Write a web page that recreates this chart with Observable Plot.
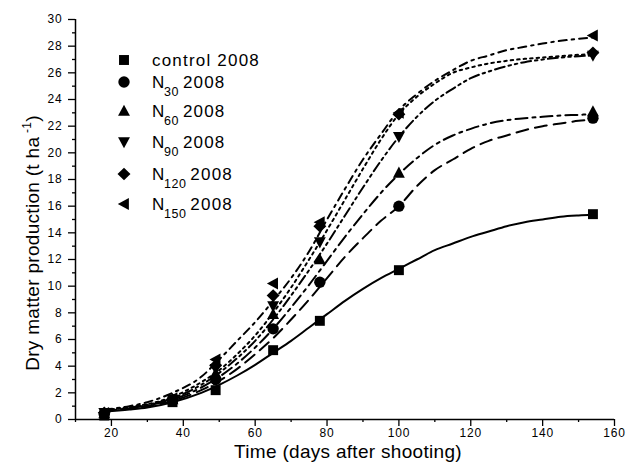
<!DOCTYPE html>
<html>
<head>
<meta charset="utf-8">
<script src="https://cdn.jsdelivr.net/npm/d3@7"></script>
<script src="https://cdn.jsdelivr.net/npm/@observablehq/plot@0.6"></script>
<style>
  body { margin: 0; background: #fff; }
  #chart { position: relative; width: 628px; height: 463px; }
  svg text { font-family: "Liberation Sans", Arial, sans-serif; }
  .tk text { letter-spacing: 0.8px; }
</style>
</head>
<body>
<div id="chart"></div>
<script>
// Observed sampling days
const days = [18, 37, 49, 65, 78, 100, 154];
// Observed dry matter (t/ha)
const control = [0.3, 1.3, 2.2, 5.2, 7.4, 11.2, 15.4];
const n30 = [0.4, 1.4, 3.0, 6.8, 10.3, 16.0, 22.6];
const n60 = [0.45, 1.5, 3.45, 7.9, 12.0, 18.5, 23.1];
const n90 = [0.5, 1.5, 3.8, 8.5, 13.3, 21.2, 27.3];
const n120 = [0.5, 1.5, 4.05, 9.3, 14.5, 22.9, 27.5];
const n150 = [0.5, 1.6, 4.5, 10.2, 14.8, 23.0, 28.8];

// Fitted curves
const fitDays = [18, 25, 30, 37, 45, 50, 55, 60, 65, 70, 75, 80, 85, 90, 95, 100, 105, 110, 115, 120, 125, 130, 135, 140, 145, 150, 154];
const fitControl = [0.6, 0.75, 0.9, 1.3, 2.0, 2.6, 3.3, 4.1, 5.0, 5.9, 6.9, 7.9, 8.9, 9.8, 10.6, 11.3, 12.0, 12.7, 13.2, 13.7, 14.1, 14.5, 14.8, 15.0, 15.2, 15.3, 15.35];
const fitN30 = [0.65, 0.8, 1.0, 1.4, 2.2, 2.9, 3.8, 4.9, 6.1, 7.5, 9.0, 10.6, 12.2, 13.6, 14.9, 16.0, 17.5, 18.7, 19.5, 20.3, 20.9, 21.3, 21.7, 22.0, 22.2, 22.4, 22.5];
const fitN60 = [0.65, 0.85, 1.05, 1.5, 2.4, 3.2, 4.2, 5.4, 6.8, 8.4, 10.1, 11.9, 13.7, 15.4, 17.0, 18.4, 19.6, 20.6, 21.3, 21.8, 22.2, 22.45, 22.6, 22.7, 22.8, 22.85, 22.9];
const fitN90 = [0.7, 0.9, 1.1, 1.6, 2.6, 3.5, 4.6, 5.9, 7.5, 9.3, 11.2, 13.2, 15.3, 17.4, 19.4, 21.2, 22.7, 23.9, 24.8, 25.6, 26.1, 26.5, 26.8, 27.0, 27.15, 27.25, 27.3];
const fitN120 = [0.7, 0.95, 1.15, 1.7, 2.8, 3.7, 4.9, 6.3, 8.0, 9.9, 12.0, 14.2, 16.5, 18.8, 21.0, 22.9, 24.2, 25.2, 26.0, 26.4, 26.7, 26.9, 27.05, 27.15, 27.25, 27.35, 27.4];
const fitN150 = [0.75, 1.0, 1.3, 2.0, 3.2, 4.5, 5.9, 7.3, 8.9, 10.6, 12.6, 15.0, 17.3, 19.5, 21.4, 23.2, 24.4, 25.4, 26.2, 26.9, 27.3, 27.7, 27.95, 28.2, 28.4, 28.55, 28.65];

// Tick values
const xMajor = [20, 40, 60, 80, 100, 120, 140, 160];
const xMinor = [10, 30, 50, 70, 90, 110, 130, 150];
const yMajor = [0, 2, 4, 6, 8, 10, 12, 14, 16, 18, 20, 22, 24, 26, 28, 30];
const yMinor = [1, 3, 5, 7, 9, 11, 13, 15, 17, 19, 21, 23, 25, 27, 29];

// custom symbols (size = pi r^2)
const rOf = s => Math.sqrt(s / Math.PI);
const symSquare = {draw(c, s) { const h = rOf(s) * 0.92; c.rect(-h, -h, 2 * h, 2 * h); }};
const symCircle = {draw(c, s) { const r = rOf(s) * 1.05; c.moveTo(r, 0); c.arc(0, 0, r, 0, 2 * Math.PI); }};
const symUp = {draw(c, s) { const r = rOf(s); c.moveTo(0, -1.15 * r); c.lineTo(1.1 * r, 0.9 * r); c.lineTo(-1.1 * r, 0.9 * r); c.closePath(); }};
const symDown = {draw(c, s) { const r = rOf(s); c.moveTo(0, 1.15 * r); c.lineTo(1.1 * r, -0.9 * r); c.lineTo(-1.1 * r, -0.9 * r); c.closePath(); }};
const symDiamond = {draw(c, s) { const r = rOf(s); c.moveTo(0, -1.15 * r); c.lineTo(1.2 * r, 0); c.lineTo(0, 1.15 * r); c.lineTo(-1.2 * r, 0); c.closePath(); }};
const symLeft = {draw(c, s) { const r = rOf(s); c.moveTo(-1.15 * r, 0); c.lineTo(0.9 * r, -1.1 * r); c.lineTo(0.9 * r, 1.1 * r); c.closePath(); }};

const series = [
  {name: "control", sub: null, obs: control, fit: fitControl, dash: null, sym: symSquare},
  {name: "N", sub: "30", obs: n30, fit: fitN30, dash: "12,7", sym: symCircle},
  {name: "N", sub: "60", obs: n60, fit: fitN60, dash: "12,5,3,5", sym: symUp},
  {name: "N", sub: "90", obs: n90, fit: fitN90, dash: "10,4,2.5,4,2.5,4", sym: symDown},
  {name: "N", sub: "120", obs: n120, fit: fitN120, dash: "2.5,4", sym: symDiamond},
  {name: "N", sub: "150", obs: n150, fit: fitN150, dash: "8,5,2.5,5", sym: symLeft}
];

const lineMarks = series.map(s => Plot.line(fitDays.map((d, i) => ({day: d, v: s.fit[i]})), {
  x: "day", y: "v", curve: "monotone-x", stroke: "black", strokeWidth: 2,
  strokeDasharray: s.dash || undefined
}));
const dotMarks = series.map(s => Plot.dot(days.map((d, i) => ({day: d, v: s.obs[i]})), {
  x: "day", y: "v", symbol: s.sym, r: 5.4, fill: "black", stroke: "none"
}));

const svg = Plot.plot({
  width: 628, height: 463,
  marginLeft: 75, marginRight: 14, marginTop: 19, marginBottom: 44,
  x: {domain: [10, 160]},
  y: {domain: [0, 30]},
  style: {fontFamily: "'Liberation Sans', Arial, sans-serif", fontSize: "12px", color: "black", background: "white"},
  marks: [
    Plot.axisX({ticks: xMajor, tickSize: 7, tickPadding: 2, label: null, strokeWidth: 1.3, className: "tk", fontSize: 12}),
    Plot.axisX({ticks: xMinor, tickSize: 3, tickFormat: () => "", label: null, strokeWidth: 1.3}),
    Plot.axisY({ticks: yMajor, tickSize: 7, tickPadding: 6, label: null, strokeWidth: 1.3, className: "tk", fontSize: 12}),
    Plot.axisY({ticks: yMinor, tickSize: 3, tickFormat: () => "", label: null, strokeWidth: 1.3}),
    Plot.ruleX([10], {strokeWidth: 1.5}),
    Plot.ruleY([0], {strokeWidth: 1.5}),
    ...lineMarks,
    ...dotMarks
  ]
});
document.getElementById("chart").appendChild(svg);

// Titles
const sel = d3.select(svg);
sel.append("text")
  .attr("x", 348).attr("y", 458)
  .attr("text-anchor", "middle").attr("font-size", 19).attr("fill", "black")
  .style("letter-spacing", "0.3px")
  .text("Time (days after shooting)");
const yt = sel.append("text")
  .attr("transform", "translate(39,243) rotate(-90)")
  .attr("text-anchor", "middle").attr("font-size", 19).attr("fill", "black")
  .style("letter-spacing", "0.3px");
yt.append("tspan").text("Dry matter production (t ha");
yt.append("tspan").attr("dy", -8).attr("font-size", 12).text(" -1");
yt.append("tspan").attr("dy", 8).text(")");

// Legend
const legY = [60, 82, 111, 142, 174, 204];
const lg = sel.append("g").attr("text-anchor", "start");
series.forEach((s, i) => {
  const y = legY[i];
  lg.append("path").attr("transform", `translate(124,${y})`)
    .attr("d", d3.symbol(s.sym, 5.4 * 5.4 * Math.PI)()).attr("fill", "black");
  const t = lg.append("text").attr("x", 152).attr("y", y + 6).attr("text-anchor", "start")
    .attr("font-size", 17).attr("fill", "black").style("letter-spacing", "1.2px");
  if (s.sub) {
    t.append("tspan").text(s.name);
    t.append("tspan").attr("dx", -1.5).attr("dy", 8).attr("font-size", 12.5).style("letter-spacing", "0.5px").text(s.sub);
    t.append("tspan").attr("dx", 4).attr("dy", -8).text("2008");
  } else {
    t.text(s.name + " 2008");
  }
});
</script>
</body>
</html>
